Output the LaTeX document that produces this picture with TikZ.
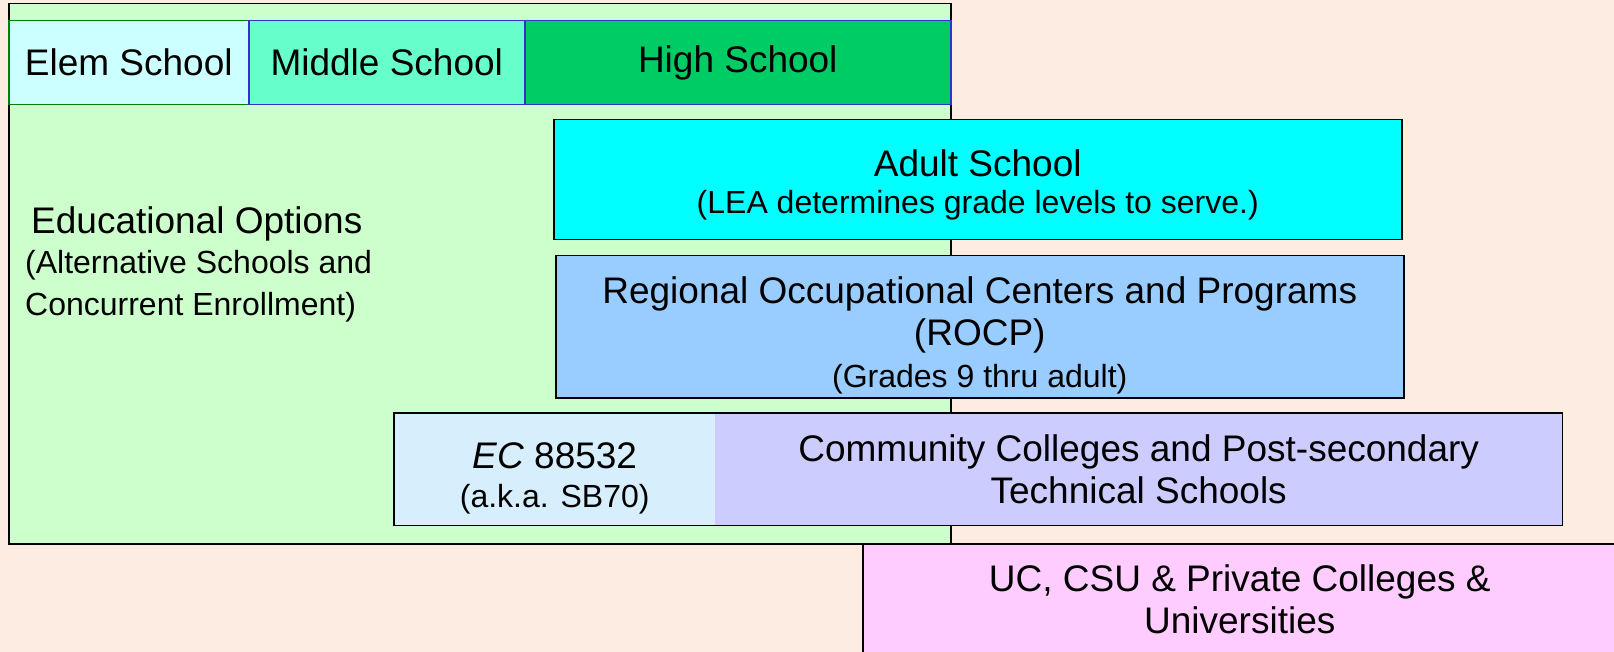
\documentclass[tikz,border=0pt]{standalone}
\usepackage{fontspec}
\setmainfont{Liberation Sans}
\usetikzlibrary{positioning}
\definecolor{peach}{RGB}{253,236,226}
\definecolor{optgreen}{RGB}{204,255,204}
\definecolor{elemcol}{RGB}{204,255,255}
\definecolor{midcol}{RGB}{102,255,204}
\definecolor{highcol}{RGB}{0,204,102}
\definecolor{adultcol}{RGB}{0,255,255}
\definecolor{rocpcol}{RGB}{153,204,255}
\definecolor{eccol}{RGB}{215,238,252}
\definecolor{cccol}{RGB}{204,204,255}
\definecolor{uccol}{RGB}{255,204,255}
\definecolor{edgeblue}{RGB}{51,51,204}
\definecolor{edgegreen}{RGB}{0,128,0}
\newcommand{\subtxt}{\fontsize{32}{38}\selectfont}

\begin{document}
\begin{tikzpicture}[x=1pt,y=-1pt,
        box/.style={draw=black,line width=1.5pt,inner sep=0pt,anchor=north west,
            font=\fontsize{37}{42}\selectfont,align=center},
        plain/.style={inner sep=0pt,anchor=north west,
            font=\fontsize{37}{42}\selectfont,align=center},
        lbl/.style={inner sep=0pt,font=\fontsize{37}{42}\selectfont,align=center}]
        \useasboundingbox (0,0) rectangle (1614,652);
        \fill[peach] (0,0) rectangle (1614,652);
        \node[box,fill=optgreen,minimum width=942pt,minimum height=540pt] (opts) at (8,3) {};
        \node[box,draw=edgegreen,fill=elemcol,minimum width=240pt,minimum height=84pt] (elem) at (8,20) {Elem School};
        \node[box,draw=edgeblue,fill=midcol,minimum width=276pt,minimum height=84pt] (middle) at (248,20) {Middle School};
        \node[box,draw=edgeblue,fill=highcol,minimum width=426pt,minimum height=84pt] (high) at (524,20) {High School};
        \node[plain,align=left] (edopts) at (25,206) {\hspace{6pt}Educational Options\\[-2pt]{\subtxt(Alternative Schools and}\\{\subtxt Concurrent Enrollment)}};
        \node[box,fill=adultcol,minimum width=848pt,minimum height=120pt] (adult) at (553,119) {};
        \node[lbl] (adulttext) at ([yshift=-5pt]adult.center) {Adult School\\[-5pt]{\subtxt(LEA determines grade levels to serve.)}};
        \node[box,fill=rocpcol,minimum width=848pt,minimum height=142pt] (rocp) at (555,255) {};
        \node[lbl] (rocptext) at ([yshift=-9pt]rocp.center) {Regional Occupational Centers and Programs\\(ROCP)\\{\subtxt(Grades 9 thru adult)}};
        \node[plain,fill=eccol,minimum width=321pt,minimum height=112pt] (ec) at (394,413) {};
        \node[lbl] (ectext) at ([yshift=-9pt]ec.center) {\textit{EC} 88532\\[-3pt]{\subtxt(a.k.a. SB70)}};
        \node[plain,fill=cccol,minimum width=847pt,minimum height=112pt] (cc) at (715,413) {Community Colleges and Post-secondary\\Technical Schools};
        \draw[line width=1.5pt] (ec.north west) rectangle (cc.south east);
        \node[box,fill=uccol,minimum width=754pt,minimum height=112pt] (uc) at (862,543) {UC, CSU \& Private Colleges \&\\Universities};
    \end{tikzpicture}
\end{document}
